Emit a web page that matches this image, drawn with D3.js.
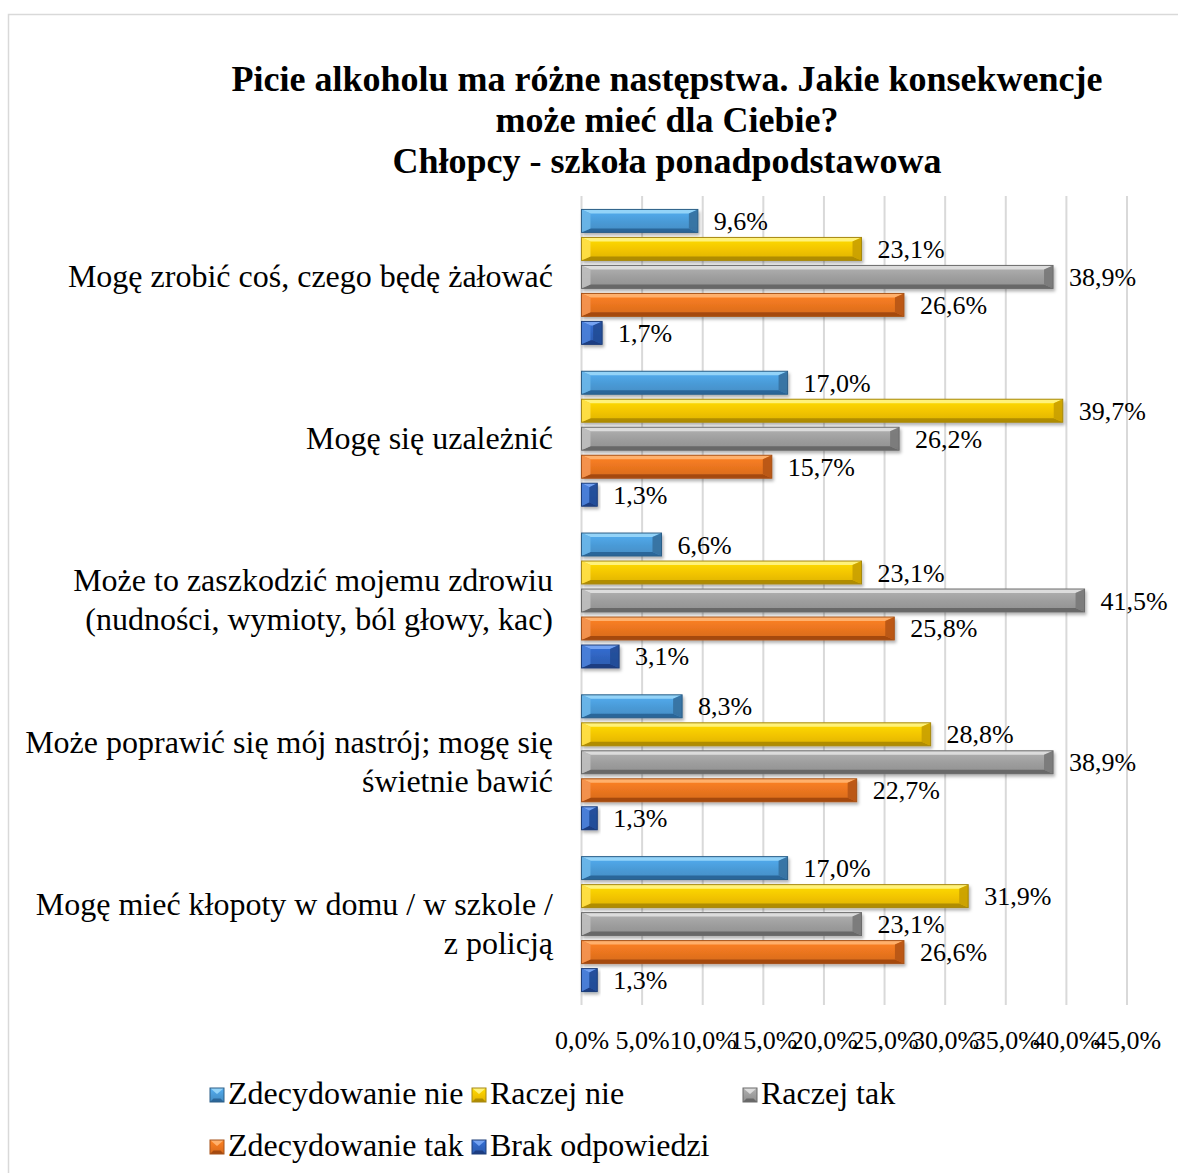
<!DOCTYPE html>
<html>
<head>
<meta charset="utf-8">
<script src="https://cdn.jsdelivr.net/npm/d3@7"></script>
<style>
  html, body { margin: 0; padding: 0; background: #fff; }
  svg { display: block; }
  text { font-family: "Liberation Serif", "Times New Roman", serif; fill: #000; }
</style>
</head>
<body>
<svg id="chart" width="1178" height="1173"></svg>
<script>
// Survey question, answer categories and values (percent)
const titleLines = [
  "Picie alkoholu ma różne następstwa. Jakie konsekwencje",
  "może mieć dla Ciebie?",
  "Chłopcy - szkoła ponadpodstawowa"
];
const categories = [
  "Mogę zrobić coś, czego będę żałować",
  "Mogę się uzależnić",
  "Może to zaszkodzić mojemu zdrowiu\n(nudności, wymioty, ból głowy, kac)",
  "Może poprawić się mój nastrój; mogę się\nświetnie bawić",
  "Mogę mieć kłopoty w domu / w szkole /\nz policją"
];
const seriesNames = ["Zdecydowanie nie", "Raczej nie", "Raczej tak", "Zdecydowanie tak", "Brak odpowiedzi"];
const zdecydowanieNie = [9.6, 17.0, 6.6, 8.3, 17.0];
const raczejNie       = [23.1, 39.7, 23.1, 28.8, 31.9];
const raczejTak       = [38.9, 26.2, 41.5, 38.9, 23.1];
const zdecydowanieTak = [26.6, 15.7, 25.8, 22.7, 26.6];
const brakOdpowiedzi  = [1.7, 1.3, 3.1, 1.3, 1.3];
const seriesValues = [zdecydowanieNie, raczejNie, raczejTak, zdecydowanieTak, brakOdpowiedzi];
const tickValues = [0, 5, 10, 15, 20, 25, 30, 35, 40, 45];

// Bevelled fill tones per series: base, top, bottom, left, right, outline
const palette = [
  { base: "#4a9ad6", top: "#93d3f8", bottom: "#2b6699", left: "#6cb6e8", right: "#35709f", stroke: "#2d5f87" },
  { base: "#f2c400", top: "#fff27a", bottom: "#b08c00", left: "#ffe04a", right: "#c9a000", stroke: "#a68812" },
  { base: "#9d9d9d", top: "#dcdcdc", bottom: "#686868", left: "#bfbfbf", right: "#787878", stroke: "#6b6b6b" },
  { base: "#e9741f", top: "#ffb06c", bottom: "#a54a10", left: "#f49552", right: "#b65512", stroke: "#a6531b" },
  { base: "#2f63be", top: "#74a3f2", bottom: "#1c3d82", left: "#4c81d8", right: "#234c96", stroke: "#1f3e79" }
];

const fmt = v => d3.format(".1f")(v).replace(".", ",") + "%";

const svg = d3.select("#chart");
const defs = svg.append("defs");
const shadow = defs.append("filter").attr("id", "shadow")
  .attr("x", "-20%").attr("y", "-30%").attr("width", "140%").attr("height", "180%");
shadow.append("feDropShadow").attr("dx", 1.5).attr("dy", 2.5).attr("stdDeviation", 1.8)
  .attr("flood-color", "#000").attr("flood-opacity", 0.3);

palette.forEach((p, i) => {
  const g = defs.append("linearGradient").attr("id", "face" + i)
    .attr("x1", 0).attr("y1", 0).attr("x2", 0).attr("y2", 1);
  g.append("stop").attr("offset", "0%").attr("stop-color", d3.color(p.base).brighter(0.35));
  g.append("stop").attr("offset", "55%").attr("stop-color", p.base);
  g.append("stop").attr("offset", "100%").attr("stop-color", d3.color(p.base).darker(0.25));
});

// Chart frame
svg.append("rect").attr("x", 8.5).attr("y", 14.5).attr("width", 1200).attr("height", 1200)
  .attr("fill", "#fff").attr("stroke", "#d9d9d9").attr("stroke-width", 1.5);

// Title
svg.append("g").selectAll("text").data(titleLines).join("text")
  .attr("x", 667).attr("y", (d, i) => 91 + i * 41)
  .attr("text-anchor", "middle").attr("font-weight", "bold").attr("font-size", 36)
  .text(d => d);

// Scales
const x = d3.scaleLinear().domain([0, 45]).range([581.5, 1127]);
const y0 = d3.scaleBand().domain(d3.range(categories.length)).range([196, 1005]).padding(0);
const y1 = d3.scaleBand().domain(d3.range(seriesNames.length)).range([0, y0.bandwidth()])
  .paddingInner(0.18).paddingOuter(0.48);

// Gridlines and x axis labels
const xAxis = d3.axisBottom(x).tickValues(tickValues).tickSize(0).tickFormat(d => fmt(d));
svg.append("g").selectAll("line").data(tickValues).join("line")
  .attr("x1", d => x(d)).attr("x2", d => x(d))
  .attr("y1", 196).attr("y2", 1005)
  .attr("stroke", "#d9d9d9").attr("stroke-width", 2);
const axisG = svg.append("g").attr("transform", "translate(0,1027)").call(xAxis);
axisG.select(".domain").remove();
axisG.selectAll("text").attr("font-size", 26).attr("font-family", "Liberation Serif, serif")
  .attr("fill", "#000").attr("dy", 0).attr("y", 22);

// Draws one bevelled bar as five faces
function bevelBar(sel, x0, yTop, w, h, p, i) {
  const x1 = x0 + w, yB = yTop + h;
  const bx = Math.min(9, w / 2), by = Math.min(4, h / 2);
  const g = sel.append("g").attr("filter", "url(#shadow)");
  g.append("rect").attr("x", x0).attr("y", yTop).attr("width", w).attr("height", h)
    .attr("fill", `url(#face${i})`);
  const poly = pts => pts.map(q => q.join(",")).join(" ");
  g.append("polygon").attr("fill", p.top)
    .attr("points", poly([[x0, yTop], [x1, yTop], [x1 - bx, yTop + by], [x0 + bx, yTop + by]]));
  g.append("polygon").attr("fill", p.bottom)
    .attr("points", poly([[x0, yB], [x1, yB], [x1 - bx, yB - by], [x0 + bx, yB - by]]));
  g.append("polygon").attr("fill", p.left).attr("opacity", 0.9)
    .attr("points", poly([[x0, yTop], [x0 + bx, yTop + by], [x0 + bx, yB - by], [x0, yB]]));
  g.append("polygon").attr("fill", p.right).attr("opacity", 0.9)
    .attr("points", poly([[x1, yTop], [x1 - bx, yTop + by], [x1 - bx, yB - by], [x1, yB]]));
  g.append("rect").attr("x", x0).attr("y", yTop).attr("width", w).attr("height", h)
    .attr("fill", "none").attr("stroke", p.stroke).attr("stroke-width", 1);
}

// Bars and value labels
const barsG = svg.append("g");
const labelsG = svg.append("g");
categories.forEach((cat, ci) => {
  seriesValues.forEach((vals, si) => {
    const v = vals[ci];
    const yTop = y0(ci) + y1(si);
    const h = y1.bandwidth();
    bevelBar(barsG, x(0), yTop, x(v) - x(0), h, palette[si], si);
    labelsG.append("text")
      .attr("x", x(v) + 16).attr("y", yTop + h / 2 + 9)
      .attr("font-size", 26).text(fmt(v));
  });
});

// Category labels
const catG = svg.append("g");
categories.forEach((cat, ci) => {
  const lines = cat.split("\n");
  const cy = y0(ci) + y0.bandwidth() / 2;
  const lh = 39;
  lines.forEach((line, li) => {
    catG.append("text")
      .attr("x", 553).attr("y", cy + (li - (lines.length - 1) / 2) * lh + 10)
      .attr("text-anchor", "end").attr("font-size", 32).text(line);
  });
});

// Legend
const legendPos = [
  { x: 210, y: 1104 }, { x: 472, y: 1104 }, { x: 743, y: 1104 },
  { x: 210, y: 1156 }, { x: 472, y: 1156 }
];
const legendG = svg.append("g");
seriesNames.forEach((name, si) => {
  const pos = legendPos[si];
  const p = palette[si];
  const s = 14, x0 = pos.x, yT = pos.y - 16;
  const bx = 3.5;
  const poly = pts => pts.map(q => q.join(",")).join(" ");
  legendG.append("rect").attr("x", x0).attr("y", yT).attr("width", s).attr("height", s).attr("fill", `url(#face${si})`);
  legendG.append("polygon").attr("fill", p.top)
    .attr("points", poly([[x0, yT], [x0 + s, yT], [x0 + s / 2, yT + s / 2 - 1]]));
  legendG.append("polygon").attr("fill", p.bottom)
    .attr("points", poly([[x0, yT + s], [x0 + s, yT + s], [x0 + s - bx, yT + s - bx], [x0 + bx, yT + s - bx]]));
  legendG.append("rect").attr("x", x0).attr("y", yT).attr("width", s).attr("height", s)
    .attr("fill", "none").attr("stroke", p.stroke).attr("stroke-width", 1);
  legendG.append("text").attr("x", x0 + 18).attr("y", pos.y)
    .attr("font-size", 32).text(name);
});
</script>
</body>
</html>
